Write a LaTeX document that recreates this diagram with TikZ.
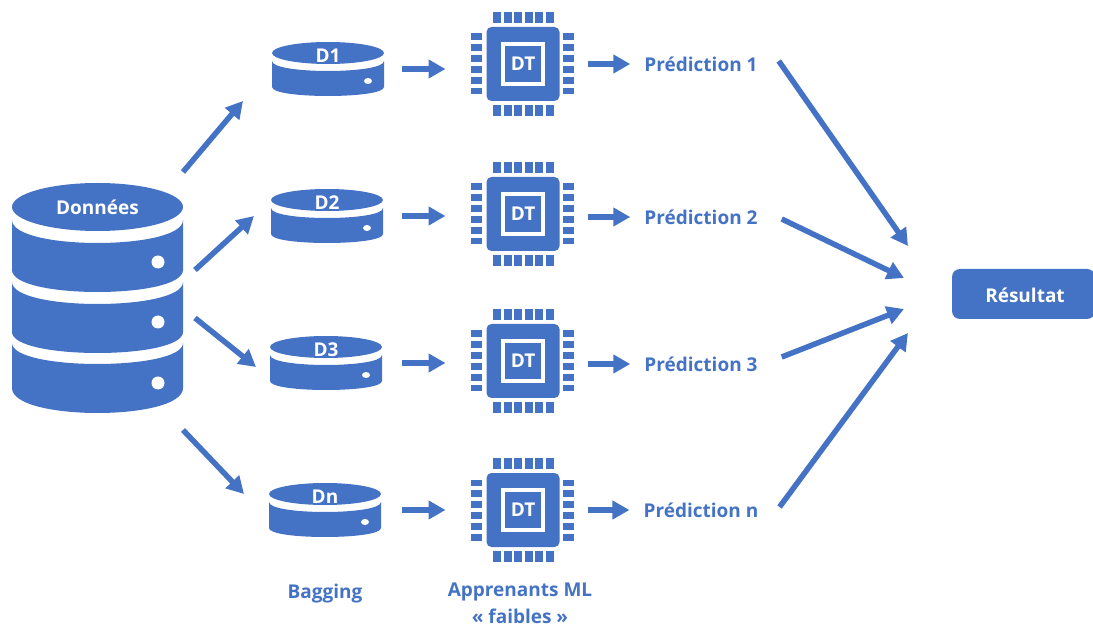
\documentclass[tikz,border=0pt]{standalone}
\usepackage{fontspec}
\setmainfont{Open Sans}
\usepackage{xcolor}
\definecolor{iconBlue}{HTML}{4472C4}
\usetikzlibrary{arrows.meta,calc}
% one band of a drum: half width, side top, top dip, side bottom, bottom dip
\newcommand{\drumslab}[5]{
    \fill[iconBlue] (-#1,#2) .. controls (-#1,{#2+1.333*((#3)-(#2))}) and (#1,{#2+1.333*((#3)-(#2))}) .. (#1,#2)
        -- (#1,#4) .. controls (#1,{#4+1.333*((#5)-(#4))}) and (-#1,{#4+1.333*((#5)-(#4))}) .. (-#1,#4) -- cycle;
}
\tikzset{
    iconbox/.style={
        rectangle,
        inner sep=0pt,
        outer sep=0pt
    },
    iconlabel/.style={
        font=\bfseries\fontsize{19}{23}\selectfont,
        text=white,
        inner sep=0pt
    },
    bluelabel/.style={
        font=\bfseries\fontsize{19}{23}\selectfont,
        text=iconBlue,
        align=center,
        inner sep=0pt
    },
    arrow/.style={
        -{Triangle[length=17pt,width=18pt]},
        line width=5.5pt,
        color=iconBlue
    },
    pics/disk/.style={
        code={
            \fill[iconBlue] (0,-16) ellipse [x radius=56pt,y radius=11pt];
            \drumslab{56}{-8}{2}{18}{27}
            \fill[white] (40,12) ellipse [x radius=4pt,y radius=3pt];
            \node[iconbox, minimum width=112pt, minimum height=54pt] (-box) at (0,0) {};
            \node[iconlabel] (-text) at (0,-13) {#1};
        }
    },
    pics/chip/.style={
        code={
            \foreach \i in {0,...,5} {
                \fill[iconBlue] ({-30+10.6*\i},-52) rectangle ++(8,11);
                \fill[iconBlue] ({-30+10.6*\i},41) rectangle ++(8,11);
                \fill[iconBlue] (-52,{-30.5+10.9*\i}) rectangle ++(11,6.5);
                \fill[iconBlue] (40,{-30.5+10.9*\i}) rectangle ++(11,6.5);
            }
            \node[iconbox, fill=iconBlue, rounded corners=5pt, minimum width=73pt, minimum height=74pt] (-box) at (0,0) {};
            \node[iconbox, fill=white, minimum size=44pt] (-ring) at (0,0) {};
            \node[iconbox, fill=iconBlue, minimum size=36pt, text=white, font=\bfseries\fontsize{19}{23}\selectfont] (-text) at (0,0) {#1};
        }
    }
}
\begin{document}
\begin{tikzpicture}[x=1pt,y=-1pt]
    \useasboundingbox (0,0) rectangle (1093,628);

    % Source data
    \fill[iconBlue] (97.5,207) ellipse [x radius=85.5pt,y radius=24pt];
    \begin{scope}[shift={(97.5,298)}]
        \drumslab{85.5}{-78}{-55}{-28}{-6}
        \drumslab{85.5}{-16}{6}{34}{55}
        \drumslab{85.5}{45}{66}{90}{115}
        \fill[white] (60.5,-36) circle [radius=6.5pt];
        \fill[white] (60.5,24) circle [radius=6.5pt];
        \fill[white] (60.5,85) circle [radius=6.5pt];
    \end{scope}
    \node[iconbox, minimum width=171pt, minimum height=230pt] (db) at (97.5,298) {};
    \node[iconlabel] (dbtext) at (97.5,207) {Données};

    % Bagging samples
    \pic (d1) at (328,69) {disk=D1};
    \pic (d2) at (327,216) {disk=D2};
    \pic (d3) at (326,363) {disk=D3};
    \pic (dn) at (325,510) {disk=Dn};

    % Weak learners
    \pic (chip1) at (523,64) {chip=DT};
    \pic (chip2) at (523,214) {chip=DT};
    \pic (chip3) at (523,361) {chip=DT};
    \pic (chipn) at (523,510) {chip=DT};

    % Predictions
    \node[bluelabel] (pred1) at (701,64) {Prédiction 1};
    \node[bluelabel] (pred2) at (701,217) {Prédiction 2};
    \node[bluelabel] (pred3) at (701,364) {Prédiction 3};
    \node[bluelabel] (predn) at (701,510) {Prédiction n};

    % Result
    \node[iconbox, fill=iconBlue, rounded corners=8pt, minimum width=143pt, minimum height=50pt] (result) at (1023.5,294) {};
    \node[iconlabel] (resulttext) at (1025,295) {Résultat};

    % Captions
    \node[bluelabel, anchor=base] (bagging) at (325,598) {Bagging};
    \node[bluelabel] (learners) at (520,603) {Apprenants ML\\[4pt]« faibles »};

    % Connections
    \draw[arrow] ([yshift=11pt]db.north east) -- ([xshift=-29pt,yshift=-5pt]d1-box.south west);
    \draw[arrow] ([xshift=12pt,yshift=28pt]db.east) -- ([xshift=-17pt]d2-box.west);
    \draw[arrow] ([xshift=12pt,yshift=-20pt]db.east) -- ([xshift=-14pt,yshift=-4pt]d3-box.west);
    \draw[arrow] ([yshift=-17pt]db.south east) -- ([xshift=-25pt,yshift=16pt]dn-box.west);

    \draw[arrow] ([xshift=18pt]d1-box.east) -- ([xshift=-41pt,yshift=-5pt]chip1-box.west);
    \draw[arrow] ([xshift=19pt]d2-box.east) -- ([xshift=-41pt,yshift=-2pt]chip2-box.west);
    \draw[arrow] ([xshift=20pt]d3-box.east) -- ([xshift=-41pt,yshift=-2pt]chip3-box.west);
    \draw[arrow] ([xshift=21pt]dn-box.east) -- ([xshift=-41pt]chipn-box.west);

    \draw[arrow] ([xshift=28pt]chip1-box.east) -- ([xshift=-14pt]pred1.west);
    \draw[arrow] ([xshift=28pt,yshift=-3pt]chip2-box.east) -- ([xshift=-14pt]pred2.west);
    \draw[arrow] ([xshift=28pt,yshift=-3pt]chip3-box.east) -- ([xshift=-14pt]pred3.west);
    \draw[arrow] ([xshift=28pt]chipn-box.east) -- ([xshift=-14pt]predn.west);

    \draw[arrow] ([xshift=21pt,yshift=3pt]pred1.east) -- ([xshift=-44pt,yshift=48pt]result.west);
    \draw[arrow] ([xshift=24pt,yshift=-2pt]pred2.east) -- ([xshift=-48pt,yshift=16pt]result.west);
    \draw[arrow] ([xshift=24pt,yshift=7pt]pred3.east) -- ([xshift=-48pt,yshift=-15pt]result.west);
    \draw[arrow] ([xshift=21pt,yshift=3pt]predn.east) -- ([xshift=-44pt,yshift=-39pt]result.west);
\end{tikzpicture}
\end{document}
